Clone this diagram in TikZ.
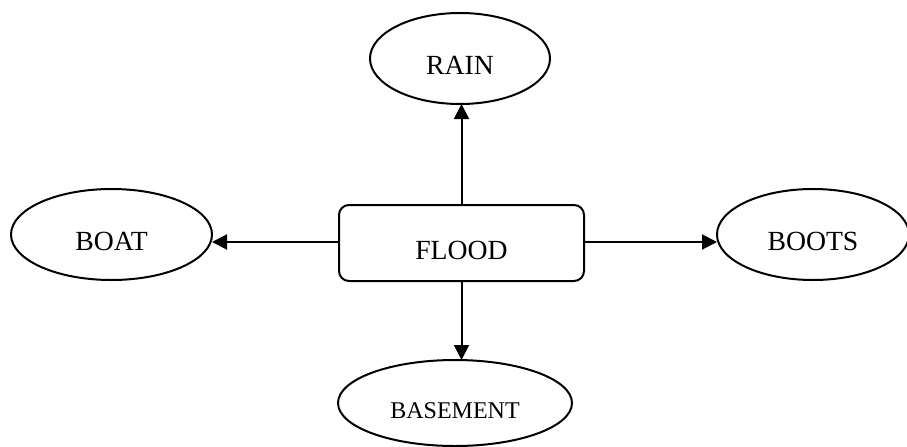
\documentclass[tikz,border=0pt]{standalone}
\usepackage{fontspec}
\setmainfont{Liberation Serif}
\usetikzlibrary{shapes.geometric,arrows.meta}
\begin{document}
\begin{tikzpicture}[x=0.5pt,y=-0.5pt,
  every node/.style={inner sep=0pt,outer sep=0pt,line width=1pt,draw=black,
    font=\fontsize{13.85}{16}\selectfont,text height=16.2pt,text depth=0pt},
  oval/.style={ellipse,minimum height=45.5pt},
  centerbox/.style={rectangle,rounded corners=5pt,minimum width=122.5pt,minimum height=38pt},
  link/.style={line width=1pt,-{Triangle[length=7.5pt,width=7.5pt]}}]
\path[use as bounding box,clip] (0,0) rectangle (907,446);
\node[centerbox] (flood) at (461.5,243) {FLOOD};
\node[oval,minimum width=90pt] (rain) at (460,58.5) {RAIN};
\node[oval,minimum width=100.5pt] (boat) at (111.5,234.5) {BOAT};
\node[oval,minimum width=96pt] (boots) at (813,234.5) {BOOTS};
\node[oval,minimum width=117pt,minimum height=43pt,font=\fontsize{12}{14}\selectfont,text height=15pt] (basement) at (455,403) {BASEMENT};
\draw[link] (flood.north) -- (flood.north |- rain.south);
\draw[link] ([yshift=0.5pt]flood.west) -- ([yshift=0.5pt]boat.east |- flood.west);
\draw[link] ([yshift=0.5pt]flood.east) -- ([yshift=0.5pt]boots.west |- flood.east);
\draw[link] (flood.south) -- (flood.south |- basement.north);
\end{tikzpicture}
\end{document}
